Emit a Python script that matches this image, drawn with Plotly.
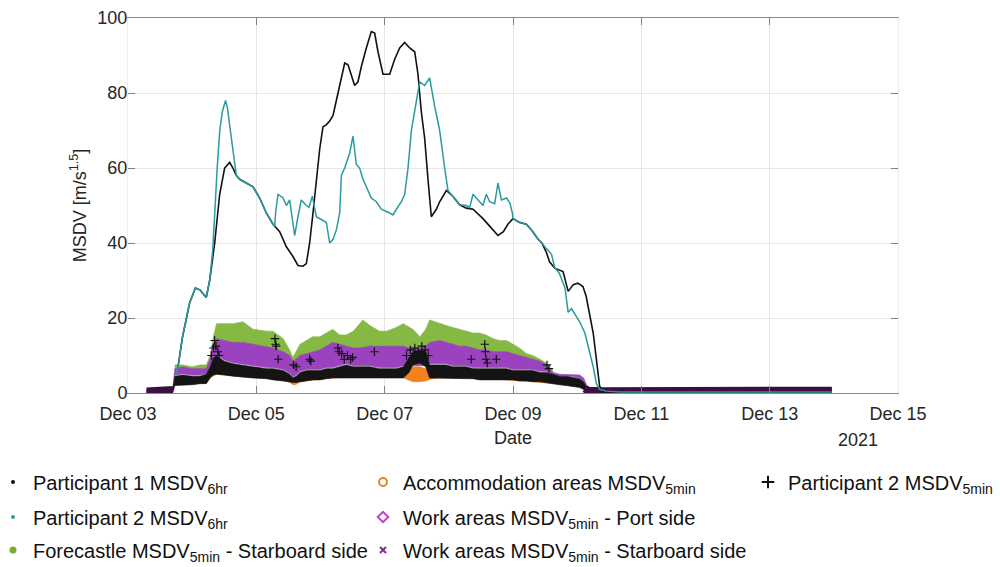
import pandas as pd
import plotly.graph_objects as go

# ---------------- data (days are fractional days of December 2021) ----------------
p1_6hr_day = [3.78, 3.85, 3.96, 4.05, 4.12, 4.22, 4.273, 4.351, 4.429, 4.506, 4.584, 4.636, 4.688, 4.740,
              4.844, 4.948, 5.052, 5.156, 5.260, 5.312, 5.364, 5.468, 5.571, 5.649, 5.727, 5.779, 5.831,
              5.883, 5.935, 5.987, 6.039, 6.09, 6.143, 6.195, 6.247, 6.299, 6.377, 6.429, 6.481, 6.532,
              6.584, 6.636, 6.714, 6.792, 6.844, 6.896, 6.974, 7.078, 7.156, 7.234, 7.312, 7.390, 7.468,
              7.519, 7.571, 7.623, 7.675, 7.727, 7.805, 7.857, 7.961, 8.065, 8.169, 8.273, 8.377, 8.532,
              8.636, 8.766, 8.85, 8.92, 9.0, 9.10, 9.21, 9.31, 9.39, 9.45, 9.52, 9.57, 9.65, 9.78, 9.86,
              9.94, 10.01, 10.09, 10.14, 10.19, 10.25, 10.30, 10.35, 10.40, 10.6, 11.0, 12.0, 13.0, 13.97]
p1_6hr_val = [7, 15, 24, 28, 27.5, 25.5, 30, 40, 53, 60, 61.5, 60, 58, 57,
              56, 55, 52, 48, 45, 44, 43, 39, 36.4, 34, 33.8, 34.5, 40,
              48, 57, 65, 71, 71.5, 72.5, 74, 78, 82, 88, 87.5, 84.5, 82,
              83, 87, 92, 96.4, 96, 91, 85, 85, 89, 92, 93.5, 92, 91,
              85, 75, 68, 57, 47, 49, 51, 54, 52.4, 50.2, 49.3, 49, 46.5,
              44.5, 42, 43, 45, 46.5, 45.5, 45, 43, 41, 40, 37.5, 35, 33.3, 32.4, 27.1,
              28.9, 29.3, 28.4, 25.8, 21.3, 16, 8.9, 1.8, 0.4, 0.3, 0.3, 0.3, 0.3, 0.3]

p2_6hr_day = [3.75, 3.78, 3.85, 3.96, 4.05, 4.12, 4.22, 4.273, 4.32, 4.35, 4.39, 4.43, 4.47, 4.52, 4.55,
              4.58, 4.64, 4.688, 4.740, 4.844, 4.948, 5.052, 5.156, 5.260, 5.286, 5.30, 5.338, 5.416,
              5.468, 5.519, 5.545, 5.597, 5.649, 5.701, 5.779, 5.821, 5.873, 5.935, 6.039, 6.091, 6.143,
              6.195, 6.247, 6.299, 6.325, 6.377, 6.455, 6.506, 6.558, 6.610, 6.662, 6.714, 6.792, 6.870,
              6.948, 7.078, 7.130, 7.182, 7.260, 7.312, 7.364, 7.416, 7.494, 7.545, 7.623, 7.701, 7.779,
              7.857, 7.935, 7.987, 8.065, 8.169, 8.273, 8.325, 8.377, 8.455, 8.532, 8.584, 8.636, 8.714,
              8.766, 8.82, 8.90, 8.95, 8.99, 9.0, 9.10, 9.21, 9.31, 9.39, 9.45, 9.52, 9.60, 9.65, 9.72,
              9.81, 9.86, 9.91, 9.96, 10.04, 10.12, 10.19, 10.25, 10.30, 10.35, 10.45, 10.66, 11.5, 12.5, 13.97]
p2_6hr_val = [5, 7, 15, 24, 28, 27.5, 25.5, 30, 38, 48, 60, 70, 75, 78, 76,
              72, 64, 58, 57, 56, 55, 52, 48, 45, 44.5, 48, 53, 52,
              50, 51.5, 48, 42, 47, 51.5, 50, 49.5, 52.5, 47, 46, 45.5, 40,
              41, 43.5, 48, 58, 60, 64, 68.5, 61, 60, 57, 55, 52, 51,
              49, 48, 47.5, 49, 51, 53, 60, 70, 78, 83, 82, 84, 76.5,
              70, 60, 54, 52.4, 50.2, 50, 49.5, 53, 51.5, 50, 53, 51, 50.5,
              56, 51.5, 52, 50.7, 48, 46.5, 45.5, 45, 43, 41, 40, 38.5, 37, 33.5, 32,
              28, 21.5, 22.5, 21, 19, 16, 11, 7, 2.5, 1, 0.5, 0.3, 0.3, 0.3, 0.3]

# Forecastle 5-min MSDV: band of scattered points (lower / upper envelope)
forecastle_day = [3.73, 3.85, 4.00, 4.12, 4.22, 4.28, 4.33, 4.38, 4.50, 4.64, 4.79, 4.95, 5.16, 5.26,
                  5.42, 5.52, 5.57, 5.62, 5.68, 5.78, 5.88, 5.99, 6.09, 6.19, 6.30, 6.40, 6.51, 6.61,
                  6.66, 6.77, 6.92, 7.03, 7.18, 7.29, 7.44, 7.55, 7.64, 7.70, 7.86, 7.96, 8.06, 8.17,
                  8.27, 8.38, 8.48, 8.58, 8.69, 8.79, 8.90, 9.00, 9.10, 9.21, 9.31, 9.42, 9.52, 9.62]
forecastle_hi = [7.5, 7.5, 7.0, 7.5, 7.5, 10.0, 15.0, 18.5, 18.5, 18.5, 19.0, 17.0, 16.5, 16.5,
                 14.5, 11.5, 9.5, 11.0, 13.0, 14.0, 15.0, 15.0, 16.0, 17.0, 15.5, 15.5, 16.5, 18.5,
                 19.5, 18.0, 16.5, 16.5, 17.5, 18.5, 17.0, 15.0, 17.0, 19.5, 18.5, 18.0, 17.5, 17.0,
                 16.5, 16.0, 16.0, 15.5, 14.5, 14.0, 14.0, 13.0, 12.0, 10.5, 10.0, 9.0, 8.0, 6.0]
forecastle_lo = [5.0, 5.5, 5.0, 5.0, 5.0, 7.5, 11.5, 13.0, 12.5, 12.0, 12.0, 11.5, 11.0, 10.5,
                 9.5, 8.5, 7.0, 7.5, 8.5, 9.0, 9.5, 10.0, 11.0, 12.0, 11.5, 11.0, 10.5, 10.5,
                 10.5, 11.0, 11.0, 11.0, 11.0, 11.0, 10.5, 10.5, 11.0, 12.0, 12.5, 12.0, 11.5, 11.0,
                 11.0, 10.5, 10.0, 10.0, 9.5, 9.5, 9.5, 9.0, 8.5, 8.0, 7.5, 7.0, 6.0, 4.5]

# Work areas (port side) and Participant 2 5-min bands share one day grid
band_day = [3.29, 3.50, 3.70, 3.73, 3.85, 4.00, 4.12, 4.22, 4.28, 4.33, 4.38, 4.50, 4.64, 4.79, 4.95,
            5.16, 5.26, 5.42, 5.52, 5.57, 5.62, 5.68, 5.78, 5.88, 5.99, 6.09, 6.19, 6.30, 6.40, 6.51,
            6.61, 6.77, 6.92, 7.03, 7.18, 7.29, 7.38, 7.44, 7.55, 7.64, 7.70, 7.86, 7.96, 8.06, 8.17,
            8.27, 8.38, 8.48, 8.58, 8.69, 8.79, 8.90, 9.00, 9.10, 9.21, 9.31, 9.42, 9.52, 9.62, 9.73,
            9.83, 9.94, 10.04, 10.10, 10.14, 10.17]
port_hi = [0.8, 1.0, 1.5, 6.5, 7.0, 6.5, 6.5, 6.5, 9.0, 13.0, 14.5, 14.0, 13.5, 13.5, 13.0,
           12.5, 12.0, 11.0, 10.0, 8.5, 9.0, 10.0, 10.5, 11.0, 11.5, 12.5, 13.5, 13.0, 12.5, 12.0,
           12.0, 12.5, 12.5, 12.5, 12.5, 12.5, 12.0, 12.0, 12.0, 12.5, 13.5, 14.0, 13.5, 13.0, 12.5,
           12.5, 12.0, 11.5, 11.5, 11.0, 11.0, 11.0, 10.5, 10.0, 9.5, 9.0, 8.5, 7.5, 5.5, 5.0,
           5.0, 5.0, 4.8, 4.0, 2.5, 0.8]
port_lo = [0.0, 0.0, 0.3, 4.8, 5.1, 4.8, 4.8, 5.3, 7.3, 9.8, 10.3, 8.8, 8.1, 7.8, 7.3,
           6.8, 6.8, 6.3, 5.3, 4.3, 4.8, 5.8, 6.3, 6.3, 6.3, 6.8, 6.8, 7.3, 7.8, 7.3,
           7.3, 7.3, 6.8, 6.8, 6.8, 7.3, 7.3, 7.3, 7.3, 7.3, 7.8, 7.8, 7.8, 7.3, 7.3,
           7.3, 6.8, 6.8, 6.8, 6.8, 6.8, 6.8, 6.3, 6.3, 6.3, 6.3, 5.8, 5.8, 5.0, 4.6,
           4.6, 4.4, 4.0, 3.2, 1.6, 0.6]
p2_5min_hi = [0.7, 0.8, 1.2, 4.5, 4.8, 4.5, 4.5, 5.0, 7.0, 9.5, 10.0, 8.5, 7.8, 7.5, 7.0,
              6.5, 6.5, 6.0, 5.0, 4.0, 4.5, 5.5, 6.0, 6.0, 6.0, 6.5, 6.5, 7.0, 7.5, 7.0,
              7.0, 7.0, 6.5, 6.5, 6.5, 7.0, 9.5, 11.0, 11.5, 11.0, 7.5, 7.5, 7.5, 7.0, 7.0,
              7.0, 6.5, 6.5, 6.5, 6.5, 6.5, 6.5, 6.0, 6.0, 6.0, 6.0, 5.5, 5.5, 5.0, 4.5,
              4.5, 4.2, 3.8, 3.0, 1.5, 0.8]
p2_5min_lo = [0.0, 0.0, 0.2, 2.0, 2.2, 2.2, 2.5, 2.5, 4.0, 4.8, 5.0, 4.8, 4.5, 4.2, 4.0,
              3.8, 3.5, 3.2, 3.0, 2.8, 2.8, 3.0, 3.2, 3.5, 3.5, 3.8, 4.0, 4.0, 4.2, 4.2,
              4.2, 4.2, 4.0, 4.0, 4.0, 4.0, 5.5, 7.5, 8.0, 7.0, 4.0, 4.0, 4.0, 4.0, 4.0,
              3.8, 3.8, 3.5, 3.5, 3.5, 3.5, 3.5, 3.5, 3.2, 3.2, 3.0, 3.0, 2.8, 2.5, 2.2,
              2.0, 1.8, 1.5, 1.0, 0.5, 0.0]

# Accommodation areas 5-min band
acc_day = [3.73, 4.22, 4.28, 4.38, 4.79, 5.16, 5.42, 5.52, 5.57, 5.62, 5.68, 5.78, 6.09, 6.51, 7.03,
           7.29, 7.38, 7.44, 7.55, 7.64, 7.70, 7.86, 8.27, 8.79, 9.31, 9.62, 9.83, 10.04, 10.14]
acc_lo = [2.1, 2.6, 4.1, 5.0, 4.3, 3.9, 3.3, 2.9, 2.2, 2.3, 3.0, 3.3, 3.9, 4.3, 4.1,
          4.1, 3.4, 3.0, 3.0, 3.2, 3.6, 4.1, 3.9, 3.6, 3.0, 2.5, 2.0, 1.5, 0.5]
acc_hi = [4.0, 4.5, 6.5, 8.0, 7.0, 6.0, 5.5, 4.5, 4.0, 4.2, 5.0, 5.5, 6.0, 6.5, 6.0,
          6.0, 6.5, 7.0, 7.0, 6.5, 6.5, 6.5, 6.5, 6.0, 5.5, 4.5, 4.0, 3.0, 1.0]

# Work areas (starboard side) 5-min: near-zero stretches (before departure / after arrival)
starboard_day = [3.29, 3.45, 3.60, 3.70, None, 10.12, 10.17, 10.4, 10.8, 11.2, 11.6, 12.0, 12.4,
                 12.8, 13.2, 13.6, 13.97]
starboard_val = [0.4, 0.4, 0.5, 0.8, None, 1.2, 0.6, 0.5, 0.5, 0.5, 0.6, 0.5, 0.5,
                 0.6, 0.5, 0.5, 0.6]

# Participant 2 5-min isolated high points
p2_5min_peak_day = [4.30, 4.33, 4.35, 4.37, 4.40, 4.42, 5.29, 5.30, 5.31, 5.34, 5.58, 5.62, 5.83, 5.85,
                    6.27, 6.29, 6.33, 6.37, 6.42, 6.47, 6.50, 6.84, 7.34, 7.40, 7.47, 7.52, 7.58, 7.63,
                    7.68, 8.35, 8.56, 8.57, 8.58, 8.60, 8.74, 9.53, 9.56]
p2_5min_peak_val = [10.0, 12.0, 14.0, 12.5, 11.0, 10.0, 14.5, 13.0, 12.5, 9.0, 7.5, 7.0, 9.0, 8.5,
                    12.0, 11.0, 10.5, 9.0, 10.0, 9.0, 9.5, 11.0, 10.0, 11.5, 12.0, 11.0, 12.5, 11.5,
                    10.0, 9.0, 13.0, 11.0, 9.0, 8.0, 9.0, 7.5, 6.5]

x_ticks_start = "2021-12-03"
x_range = ["2021-12-03", "2021-12-15"]
y_ticks = [0, 20, 40, 60, 80, 100]

# ---------------- helpers ----------------
BASE = pd.Timestamp("2021-12-01")


def to_time(days):
    return [None if d is None else BASE + pd.Timedelta(days=d - 1) for d in days]


FONT = "Liberation Sans, Arial, Helvetica, sans-serif"
TXT = "#262626"

fig = go.Figure()


def band(days, lo, hi, color):
    t = to_time(days)
    fig.add_trace(go.Scatter(
        x=t + t[::-1], y=list(hi) + list(lo)[::-1], mode="lines", fill="toself",
        fillcolor=color, line=dict(width=0.6, color=color), hoverinfo="skip", showlegend=False))


band(forecastle_day, forecastle_lo, forecastle_hi, "#85B944")
band(band_day, port_lo, port_hi, "#9B43BE")
band(acc_day, acc_lo, acc_hi, "#F2821E")
band(band_day, p2_5min_lo, p2_5min_hi, "#141414")

fig.add_trace(go.Scatter(x=to_time(starboard_day), y=starboard_val, mode="lines",
                         line=dict(color="#3B0F42", width=8), connectgaps=False,
                         hoverinfo="skip", showlegend=False))
fig.add_trace(go.Scatter(x=to_time(p2_5min_peak_day), y=p2_5min_peak_val, mode="markers",
                         marker=dict(symbol="cross-thin-open", size=6, color="#111111",
                                     line=dict(width=1.2, color="#111111")),
                         hoverinfo="skip", showlegend=False))
fig.add_trace(go.Scatter(x=to_time(p1_6hr_day), y=p1_6hr_val, mode="lines",
                         line=dict(color="#111111", width=1.6), showlegend=False))
fig.add_trace(go.Scatter(x=to_time(p2_6hr_day), y=p2_6hr_val, mode="lines",
                         line=dict(color="#2B9AA0", width=1.5), showlegend=False))

# ---------------- legend entries (one legend box per entry, 3 columns) ----------------
legend_items = [
    ("Participant 1 MSDV<sub>6hr</sub>", dict(symbol="circle", size=4, color="#111111"), "legend"),
    ("Participant 2 MSDV<sub>6hr</sub>", dict(symbol="circle", size=4, color="#2B9AA0"), "legend2"),
    ("Forecastle MSDV<sub>5min</sub> - Starboard side", dict(symbol="circle", size=7, color="#77AC30"), "legend3"),
    ("Accommodation areas MSDV<sub>5min</sub>", dict(symbol="circle-open", size=8, color="#D98A2B",
                                                    line=dict(width=2)), "legend4"),
    ("Work areas MSDV<sub>5min</sub> - Port side", dict(symbol="diamond-open", size=8, color="#C040C8",
                                                       line=dict(width=2)), "legend5"),
    ("Work areas MSDV<sub>5min</sub> - Starboard side", dict(symbol="x-thin-open", size=6, color="#7E2F8E",
                                                            line=dict(width=2)), "legend6"),
    ("Participant 2 MSDV<sub>5min</sub>", dict(symbol="cross-thin-open", size=9, color="#111111",
                                               line=dict(width=2)), "legend7"),
]
for name, mk, lg in legend_items:
    fig.add_trace(go.Scatter(x=[None], y=[None], mode="markers", name=name, marker=mk,
                             legend=lg, showlegend=True))

PLOT_L, PLOT_R, PLOT_T, PLOT_B = 128, 898, 18, 393


def px_x(p):
    return (p - PLOT_L) / (PLOT_R - PLOT_L)


def px_y(p):
    return (PLOT_B - p) / (PLOT_B - PLOT_T)


col_x = [px_x(-7), px_x(363), px_x(748)]
row_y = [px_y(482), px_y(517), px_y(550)]
positions = {
    "legend": (col_x[0], row_y[0]), "legend2": (col_x[0], row_y[1]), "legend3": (col_x[0], row_y[2]),
    "legend4": (col_x[1], row_y[0]), "legend5": (col_x[1], row_y[1]), "legend6": (col_x[1], row_y[2]),
    "legend7": (col_x[2], row_y[0]),
}
legend_layout = {}
for key, (lx, ly) in positions.items():
    legend_layout[key] = dict(x=lx, y=ly, xanchor="left", yanchor="middle", bgcolor="rgba(0,0,0,0)",
                              borderwidth=0, font=dict(family=FONT, size=20, color="#111111"))

fig.update_layout(
    width=1000, height=567,
    paper_bgcolor="white", plot_bgcolor="white",
    margin=dict(l=PLOT_L, r=1000 - PLOT_R, t=PLOT_T, b=567 - PLOT_B, autoexpand=False),
    font=dict(family=FONT, size=18, color=TXT),
    xaxis=dict(type="date", range=x_range, tick0=x_ticks_start, dtick=2 * 86400000, tickformat="%b %d",
               ticks="inside", ticklen=7, tickcolor="#808080", showline=True, linecolor="#8a8a8a",
               linewidth=1, mirror="ticks", showgrid=True, gridcolor="#e6e6e6", zeroline=False,
               tickfont=dict(size=18, color=TXT), ticklabelstandoff=4,
               title=dict(text="Date", font=dict(size=18, color=TXT), standoff=8)),
    yaxis=dict(range=[0, 100], tickvals=y_ticks, ticks="inside", ticklen=7, tickcolor="#808080",
               showline=True, linecolor="#eeeeee", mirror="ticks", showgrid=True, gridcolor="#e6e6e6",
               zeroline=False, tickfont=dict(size=18, color=TXT), ticklabelstandoff=-4,
               title=dict(text="MSDV [m/s<sup>1.5</sup>]", font=dict(size=18, color=TXT), standoff=6)),
    annotations=[dict(text="2021", x=px_x(858), y=px_y(440), xref="paper", yref="paper",
                      xanchor="center", yanchor="middle", showarrow=False,
                      font=dict(size=18, color=TXT))],
    **legend_layout,
)

fig.write_html("out.html", config={"displayModeBar": False},
               post_script="document.body.style.margin='0';")
